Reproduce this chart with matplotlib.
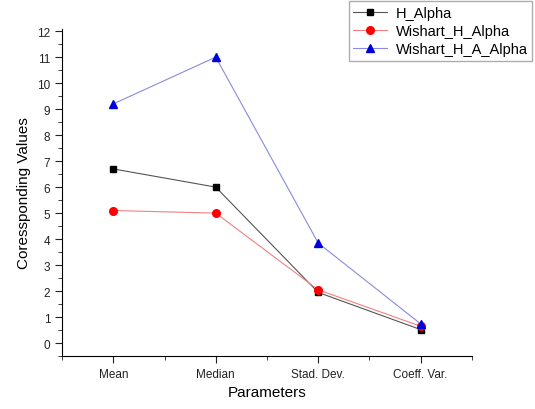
import numpy as np
import matplotlib.pyplot as plt

categories = ["Mean", "Median", "Stad. Dev.", "Coeff. Var."]
h_alpha = [6.7, 6.0, 1.95, 0.52]
wishart_h_alpha = [5.1, 5.0, 2.05, 0.65]
wishart_h_a_alpha = [9.2, 11.0, 3.85, 0.74]

plt.rcParams['font.family'] = ['Liberation Sans', 'DejaVu Sans']

fig = plt.figure(figsize=(5.35, 4.10), dpi=100)
ax = fig.add_axes([0.116, 0.129, 0.766, 0.799])

x = np.arange(1, len(categories) + 1)
ax.plot(x, h_alpha, color='#555555', lw=0.8, marker='s', ms=5,
        mfc='black', mec='black', label='H_Alpha')
ax.plot(x, wishart_h_alpha, color='#f08080', lw=0.8, marker='o', ms=5.5,
        mfc='red', mec='red', label='Wishart_H_Alpha')
ax.plot(x, wishart_h_a_alpha, color='#8a8ae0', lw=0.8, marker='^', ms=6,
        mfc='#0000dd', mec='#0000dd', label='Wishart_H_A_Alpha')

ax.set_xlim(0.5, 4.5)
ax.set_ylim(-0.5, 12.1)
ax.set_xticks(x)
ax.set_xticklabels(categories)
ax.xaxis.set_minor_locator(plt.FixedLocator([0.5, 1.5, 2.5, 3.5, 4.5]))
ax.set_yticks(range(0, 13))
ax.yaxis.set_minor_locator(plt.FixedLocator(np.arange(-0.5, 12.0, 1.0)))

# only left and bottom axis lines, like the original
for s in ['top', 'right']:
    ax.spines[s].set_visible(False)
ax.spines['left'].set_bounds(-0.5, 12.1)

ax.tick_params(which='both', direction='out', labelsize=8.5, colors='#222222')
ax.tick_params(which='major', length=5)
ax.tick_params(which='minor', length=3)

ax.set_xlabel('Parameters', fontsize=11)
ax.set_ylabel('Coressponding Values', fontsize=11)

fig.legend(loc='upper right', bbox_to_anchor=(1.008, 1.012), fontsize=10.5,
           frameon=True, fancybox=False, edgecolor='#999999',
           handlelength=2.3, borderpad=0.3, labelspacing=0.3,
           handletextpad=0.6)

fig.savefig('out.png', dpi=100)
